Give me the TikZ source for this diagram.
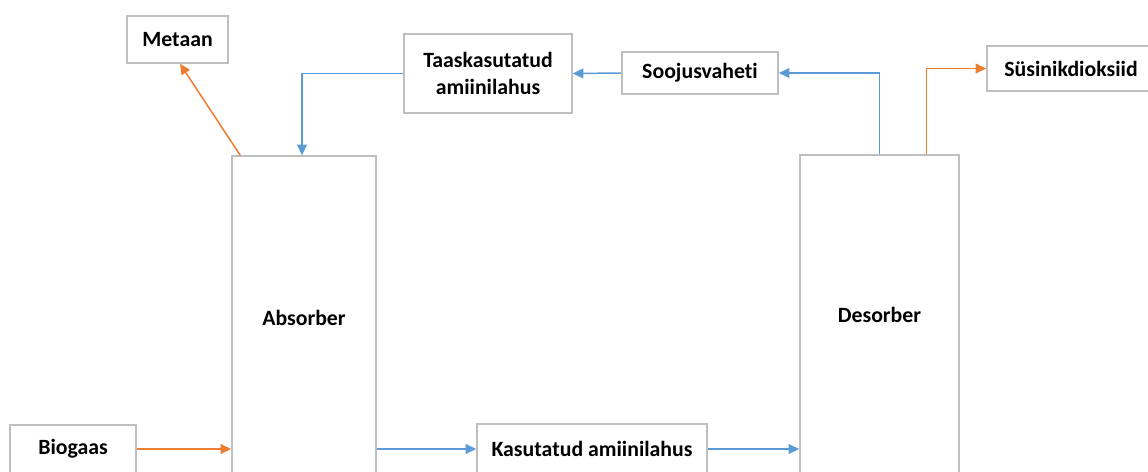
\documentclass[tikz,border=0pt]{standalone}
\usepackage{fontspec}
\setmainfont{Carlito}[Ligatures=NoCommon]
\usetikzlibrary{arrows.meta,positioning,calc}
\definecolor{flowblue}{RGB}{91,155,213}
\definecolor{floworange}{RGB}{237,125,49}
\definecolor{boxgray}{RGB}{191,191,191}

\begin{document}
\begin{tikzpicture}[x=0.02cm,y=-0.02cm,
    box/.style={rectangle, draw=boxgray, line width=0.9pt, fill=white, align=center,
        inner sep=0pt, font=\fontsize{12.4}{15}\selectfont\bfseries},
    bluearrow/.style={draw=flowblue, line width=0.85pt, -{Triangle[length=6pt,width=5.5pt]}, flowblue},
    orangearrow/.style={draw=floworange, line width=0.85pt, -{Triangle[length=6pt,width=5.5pt]}, floworange}]
    \clip (0,0) rectangle (1148,471);

    % Columns
    \node[box, minimum width=2.88cm, minimum height=6.48cm] (absorber) at (304,318) {Absorber};
    \node[box, minimum width=3.18cm, minimum height=6.4cm] (desorber) at (879.5,315) {Desorber};

    % Streams
    \node[box, minimum width=2.02cm, minimum height=0.94cm] (metaan) at (177.5,39.5) {Metaan};
    \node[box, minimum width=3.36cm, minimum height=1.58cm] (taaskasutatud) at (488,73.5) {Taaskasutatud\\amiinilahus};
    \node[box, minimum width=3.12cm, minimum height=0.84cm] (soojusvaheti) at (700,73) {Soojusvaheti};
    \node[box, minimum width=3.36cm, minimum height=0.9cm] (susinik) at (1071,68.5) {Süsinikdioksiid};
    \node[box, minimum width=2.52cm, minimum height=0.96cm] (biogaas) at (73,449) {Biogaas};
    \node[box, minimum width=4.6cm, minimum height=1cm] (kasutatud) at (592,449) {Kasutatud amiinilahus};

    % Gas lines
    \draw[orangearrow] (biogaas.east) -- (absorber.west |- biogaas.east);
    \draw[orangearrow] ($(absorber.north west)+(9,0)$) -- ($(metaan.south)+(2.5,0)$);
    \draw[orangearrow] ($(desorber.north)+(47,0)$) |- (susinik.west);

    % Amine loop
    \draw[bluearrow] (absorber.east |- kasutatud.west) -- (kasutatud.west);
    \draw[bluearrow] (kasutatud.east) -- (desorber.west |- kasutatud.east);
    \draw[bluearrow] (desorber.north) |- (soojusvaheti.east);
    \draw[bluearrow] (soojusvaheti.west) -- (taaskasutatud.east);
    \draw[bluearrow] (taaskasutatud.west) -| ($(absorber.north)+(-2,0)$);
\end{tikzpicture}
\end{document}
